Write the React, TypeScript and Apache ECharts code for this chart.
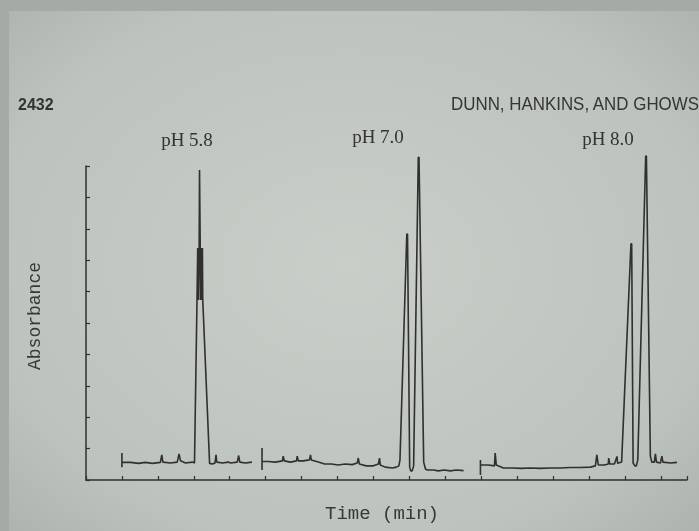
import React, { useEffect, useRef } from "react";
import * as echarts from "echarts";

// Time (min) / absorbance traces
const traceLabels = ["pH 5.8", "pH 7.0", "pH 8.0"];

const tracePH58: [number, number][] = [
  [1.0, 0.86], [1.0, 0.41], [1.0, 0.56], [1.24, 0.56], [1.46, 0.53], [1.65, 0.56],
  [1.85, 0.53], [2.07, 0.56], [2.11, 0.8], [2.14, 0.57], [2.35, 0.54], [2.54, 0.57],
  [2.59, 0.83], [2.63, 0.61], [2.77, 0.54], [2.96, 0.57], [3.02, 0.54],
  [3.09, 5.73], [3.11, 7.39], [3.13, 5.73], [3.15, 7.39], [3.16, 9.87], [3.18, 7.39],
  [3.19, 5.73], [3.21, 7.39], [3.22, 5.73], [3.24, 7.39], [3.25, 5.73],
  [3.44, 0.53], [3.52, 0.51], [3.59, 0.54], [3.62, 0.8], [3.64, 0.57], [3.8, 0.54],
  [3.96, 0.57], [4.02, 0.54], [4.21, 0.57], [4.25, 0.78], [4.28, 0.57], [4.44, 0.54],
  [4.62, 0.57],
];

const tracePH70: [number, number][] = [
  [4.9, 1.02], [4.9, 0.32], [4.9, 0.59], [5.08, 0.59], [5.27, 0.57], [5.47, 0.61],
  [5.49, 0.76], [5.52, 0.61], [5.69, 0.57], [5.86, 0.61], [5.88, 0.76], [5.91, 0.61],
  [6.05, 0.61], [6.22, 0.64], [6.25, 0.8], [6.27, 0.64], [6.47, 0.57], [6.64, 0.51],
  [6.83, 0.51], [7.02, 0.48], [7.22, 0.51], [7.41, 0.49], [7.55, 0.54], [7.58, 0.7],
  [7.61, 0.51], [7.8, 0.45], [8.0, 0.45], [8.14, 0.51], [8.17, 0.7], [8.19, 0.48],
  [8.33, 0.41], [8.53, 0.38], [8.64, 0.41], [8.71, 0.45], [8.74, 0.64],
  [8.93, 7.83], [8.95, 7.83], [9.01, 0.41], [9.04, 0.29], [9.08, 0.29], [9.12, 0.45],
  [9.25, 10.28], [9.27, 10.28], [9.4, 0.57], [9.45, 0.35], [9.5, 0.32], [9.67, 0.32],
  [9.81, 0.29], [9.97, 0.32], [10.14, 0.29], [10.31, 0.32], [10.51, 0.3],
];

const tracePH80: [number, number][] = [
  [10.98, 0.64], [10.98, 0.16], [10.98, 0.48], [11.2, 0.48], [11.37, 0.45], [11.39, 0.86],
  [11.42, 0.48], [11.62, 0.38], [11.87, 0.38], [12.12, 0.37], [12.37, 0.38], [12.65, 0.37],
  [12.92, 0.38], [13.2, 0.38], [13.48, 0.4], [13.76, 0.4], [14.04, 0.41], [14.18, 0.45],
  [14.22, 0.8], [14.26, 0.48], [14.43, 0.48], [14.54, 0.51], [14.55, 0.7], [14.58, 0.51],
  [14.71, 0.51], [14.78, 0.75], [14.8, 0.53], [14.91, 0.57],
  [15.17, 7.52], [15.19, 7.52], [15.23, 0.54], [15.28, 0.45], [15.32, 0.45], [15.36, 0.64],
  [15.58, 10.32], [15.6, 10.32], [15.71, 0.76], [15.75, 0.57], [15.82, 0.57], [15.85, 0.83],
  [15.88, 0.57], [15.99, 0.54], [16.03, 0.76], [16.06, 0.57], [16.27, 0.54], [16.45, 0.56],
];

const xMax = 16.73;
const yMax = 10;

const INK = "#2f302f";

export default function App() {
  const ref = useRef<HTMLDivElement>(null);
  useEffect(() => {
    if (!ref.current) return;
    const chart = echarts.init(ref.current, undefined, { renderer: "svg" });
    const traces = [tracePH58, tracePH70, tracePH80];
    chart.setOption({
      animation: false,
      backgroundColor: {
        type: "radial",
        x: 0.5,
        y: 0.5,
        r: 0.75,
        colorStops: [
          { offset: 0, color: "#c9cec9" },
          { offset: 0.7, color: "#bcc2bd" },
          { offset: 1, color: "#a9afaa" },
        ],
      },
      grid: { left: 86, top: 166, width: 601, height: 314 },
      xAxis: {
        type: "value",
        min: 0,
        max: xMax,
        interval: 1,
        axisLine: { show: true, lineStyle: { color: INK, width: 1.5 } },
        axisTick: { show: true, inside: true, length: 4, lineStyle: { color: INK, width: 1.2 } },
        axisLabel: { show: false },
        splitLine: { show: false },
      },
      yAxis: {
        type: "value",
        min: 0,
        max: yMax,
        interval: 1,
        axisLine: { show: true, lineStyle: { color: INK, width: 1.5 } },
        axisTick: { show: true, inside: true, length: 4, lineStyle: { color: INK, width: 1.2 } },
        axisLabel: { show: false },
        splitLine: { show: false },
      },
      series: traces.map((d, i) => ({
        name: traceLabels[i],
        type: "line",
        data: d,
        symbol: "none",
        clip: false,
        lineStyle: { color: INK, width: 1.6 },
      })),
      graphic: [
        { type: "rect", shape: { x: 0, y: 0, width: 699, height: 11 }, style: { fill: "#a6aaa6" } },
        { type: "rect", shape: { x: 0, y: 0, width: 9, height: 531 }, style: { fill: "#a6aaa6" } },
        {
          type: "text",
          x: 18,
          y: 104,
          style: { text: "2432", font: "bold 16px 'Liberation Sans'", fill: "#333", verticalAlign: "middle" },
        },
        {
          type: "text",
          x: 451,
          y: 104,
          scaleX: 0.94,
          style: { text: "DUNN, HANKINS, AND GHOWS", font: "18px 'Liberation Sans'", fill: "#353535", verticalAlign: "middle" },
        },
        {
          type: "text",
          x: 187,
          y: 139,
          style: { text: traceLabels[0], font: "19px 'Liberation Serif'", fill: "#333", align: "center", verticalAlign: "middle" },
        },
        {
          type: "text",
          x: 378,
          y: 136,
          style: { text: traceLabels[1], font: "19px 'Liberation Serif'", fill: "#333", align: "center", verticalAlign: "middle" },
        },
        {
          type: "text",
          x: 608,
          y: 138,
          style: { text: traceLabels[2], font: "19px 'Liberation Serif'", fill: "#333", align: "center", verticalAlign: "middle" },
        },
        {
          type: "text",
          x: 35,
          y: 316,
          rotation: Math.PI / 2,
          style: { text: "Absorbance", font: "18px 'Liberation Mono'", fill: "#383838", align: "center", verticalAlign: "middle" },
        },
        {
          type: "text",
          x: 382,
          y: 514,
          style: { text: "Time (min)", font: "19px 'Liberation Mono'", fill: "#383838", align: "center", verticalAlign: "middle" },
        },
      ],
    });
    return () => chart.dispose();
  }, []);
  return (
    <div
      ref={ref}
      style={{ position: "fixed", left: 0, top: 0, width: 699, height: 531 }}
    />
  );
}
